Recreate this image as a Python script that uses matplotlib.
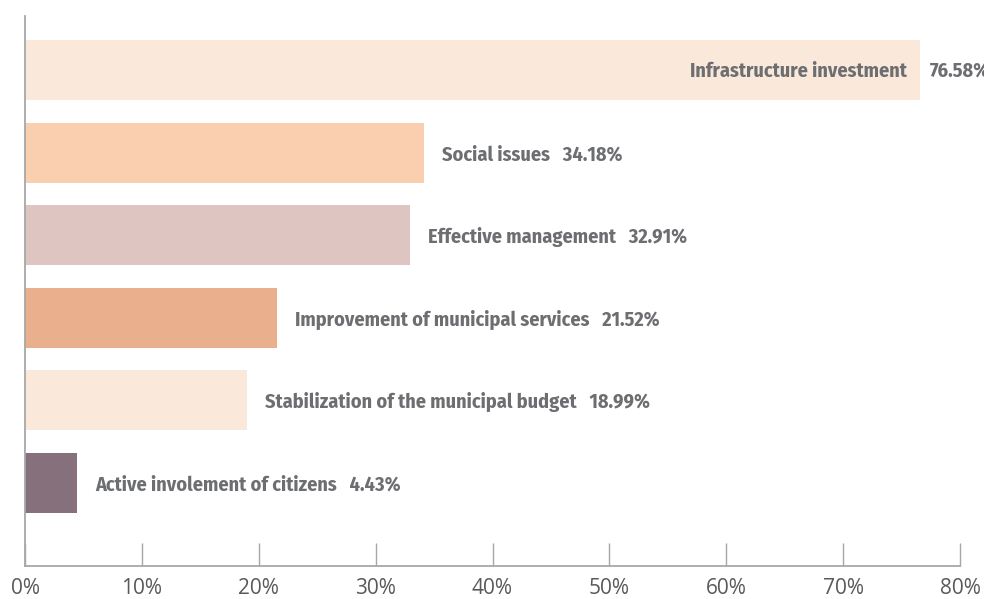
import matplotlib
matplotlib.use("Agg")
import matplotlib.pyplot as plt

# Survey results: priorities, top to bottom
categories = [
    "Infrastructure investment",
    "Social issues",
    "Effective management",
    "Improvement of municipal services",
    "Stabilization of the municipal budget",
    "Active involement of citizens",
]
shares = [76.58, 34.18, 32.91, 21.52, 18.99, 4.43]
bar_colors = ["#fae8da", "#f9cfb0", "#dfc5c2", "#eab08e", "#fae8da", "#85707c"]
x_ticks = [0, 10, 20, 30, 40, 50, 60, 70, 80]

TEXT = "#6d6e71"
AXIS = "#a7a7a7"
LABEL_FONT = ["Fira Sans Condensed", "DejaVu Sans"]
label_kw = dict(fontsize=14.5, fontweight="bold", fontstretch="condensed",
                color=TEXT, family=LABEL_FONT, va="center",
                textcoords="offset pixels")

fig = plt.figure(figsize=(9.84, 5.99), dpi=100)
ax = fig.add_axes([25 / 984, 1 - 566 / 599, 935 / 984, 550 / 599])

pos = list(range(len(categories)))
ax.barh(pos, shares, height=0.726, color=bar_colors, zorder=2)

for i, (name, v) in enumerate(zip(categories, shares)):
    if i == 0:
        # longest bar: name sits inside, value right after the bar
        ax.annotate(name, xy=(v, i), xytext=(-13, -1), ha="right", **label_kw)
        ax.annotate(f"{v:.2f}%", xy=(v, i), xytext=(10, -1), ha="left",
                    annotation_clip=False, **label_kw)
    else:
        ax.annotate(f"{name}   {v:.2f}%", xy=(v, i), xytext=(18, -2),
                    ha="left", **label_kw)

ax.set_xlim(0, 80)
ax.set_ylim(len(categories) - 1 + 1.005, -0.654)
ax.set_yticks([])
ax.set_xticks(x_ticks)
ax.set_xticklabels([f"{t}%" for t in x_ticks], fontsize=15, color="#58595b",
                   family=["Open Sans", "DejaVu Sans"])
ax.tick_params(axis="x", direction="in", length=16.5, width=1.0, color=AXIS, pad=9)

for side in ("top", "right"):
    ax.spines[side].set_visible(False)
for side in ("left", "bottom"):
    ax.spines[side].set_color(AXIS)
    ax.spines[side].set_linewidth(1.3)

fig.savefig("out.png", dpi=100)
